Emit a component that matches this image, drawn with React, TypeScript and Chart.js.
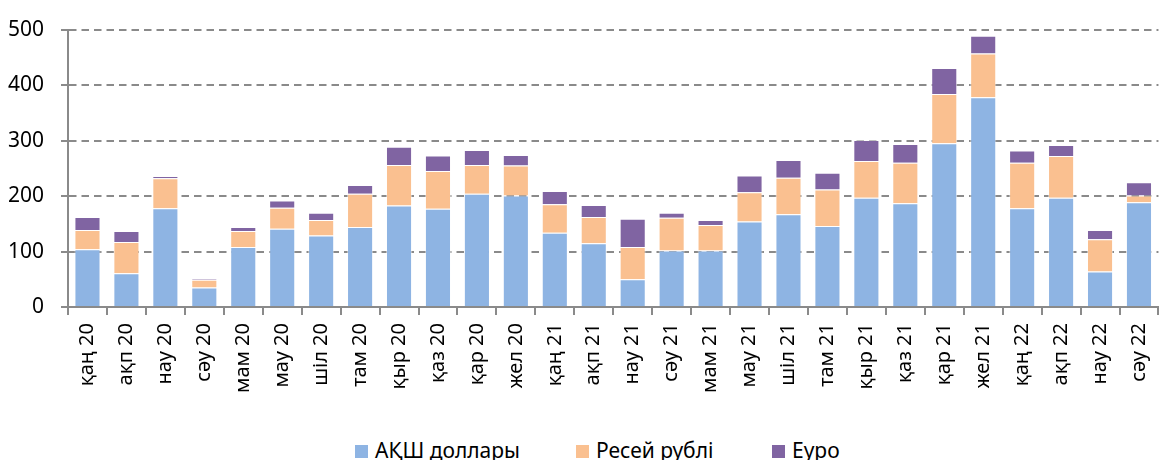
import React, { useEffect, useRef } from 'react';
import { Chart, registerables } from 'chart.js';

Chart.register(...registerables);

const categories = [
  'қаң 20', 'ақп 20', 'нау 20', 'сәу 20', 'мам 20', 'мау 20', 'шіл 20', 'там 20',
  'қыр 20', 'қаз 20', 'қар 20', 'жел 20', 'қаң 21', 'ақп 21', 'нау 21', 'сәу 21',
  'мам 21', 'мау 21', 'шіл 21', 'там 21', 'қыр 21', 'қаз 21', 'қар 21', 'жел 21',
  'қаң 22', 'ақп 22', 'нау 22', 'сәу 22',
];

const usd = [104, 61, 178, 35, 108, 141, 129, 144, 183, 177, 204, 201, 134, 115, 50, 102, 102, 154, 167, 146, 197, 187, 295, 378, 178, 197, 64, 189];
const rub = [35, 56, 54, 14, 29, 38, 28, 60, 73, 68, 52, 54, 51, 47, 58, 59, 46, 53, 66, 66, 66, 73, 89, 79, 82, 75, 58, 12];
const eur = [23, 20, 4, 2, 7, 13, 13, 16, 33, 28, 27, 19, 24, 22, 51, 9, 9, 30, 32, 30, 38, 34, 47, 32, 22, 20, 17, 24];

const seriesNames = ['АҚШ доллары', 'Ресей рублі', 'Еуро'];
const seriesValues = [usd, rub, eur];
const seriesColors = ['#8EB4E3', '#FAC090', '#8064A2'];

const yMin = 0;
const yMax = 500;
const yStep = 100;

const FONT = "'Noto Sans', sans-serif";
const GRID = '#8a8a8a';
const legendLefts = [355, 576, 772];

export default function App() {
  const canvasRef = useRef<HTMLCanvasElement | null>(null);

  useEffect(() => {
    const canvas = canvasRef.current;
    if (!canvas) return;
    const chart = new Chart(canvas, {
      type: 'bar',
      data: {
        labels: categories,
        datasets: seriesNames.map((name, i) => ({
          label: name,
          data: seriesValues[i],
          backgroundColor: seriesColors[i],
          borderColor: 'rgba(255,255,255,0.45)',
          borderWidth: 1,
          barPercentage: 0.67,
          categoryPercentage: 1,
        })),
      },
      options: {
        responsive: false,
        animation: false,
        devicePixelRatio: 1,
        layout: { padding: { top: 28, right: 1, left: 0, bottom: 0 } },
        plugins: {
          legend: { display: false },
          tooltip: { enabled: false },
        },
        scales: {
          x: {
            stacked: true,
            afterFit: (scale: any) => { scale.height = 93; },
            grid: {
              drawOnChartArea: false,
              drawTicks: true,
              tickLength: 8,
              color: GRID,
              lineWidth: 2,
              tickColor: GRID,
              tickWidth: 2,
            },
            border: { display: true, color: GRID, width: 2 },
            ticks: {
              autoSkip: false,
              minRotation: 90,
              maxRotation: 90,
              padding: 8,
              color: '#000',
              font: { family: FONT, size: 20 },
            },
          },
          y: {
            stacked: true,
            min: yMin,
            max: yMax,
            afterFit: (scale: any) => { scale.width = 68; },
            grid: {
              drawTicks: true,
              tickLength: 7,
              color: GRID,
              lineWidth: 2,
              tickColor: GRID,
              tickWidth: 2,
              tickBorderDash: [],
            },
            border: { display: true, color: GRID, width: 2, dash: [7.5, 5] },
            ticks: {
              stepSize: yStep,
              padding: 17,
              color: '#000',
              font: { family: FONT, size: 21 },
            },
          },
        },
      },
    });
    return () => chart.destroy();
  }, []);

  return (
    <div style={{ position: 'fixed', left: 0, top: 0, width: 1160, height: 460, overflow: 'hidden', background: '#fff' }}>
      <canvas ref={canvasRef} width={1171} height={400} style={{ position: 'absolute', left: 0, top: 0 }} />
      {seriesNames.map((name, i) => (
        <div key={name} style={{ position: 'absolute', left: legendLefts[i], top: 440, height: 21, display: 'flex', alignItems: 'flex-start', whiteSpace: 'nowrap' }}>
          <span style={{ display: 'inline-block', width: 13, height: 13, marginTop: 5, background: seriesColors[i] }} />
          <span style={{ marginLeft: 7, fontFamily: FONT, fontSize: 21, lineHeight: '21px', color: '#000' }}>{name}</span>
        </div>
      ))}
    </div>
  );
}
